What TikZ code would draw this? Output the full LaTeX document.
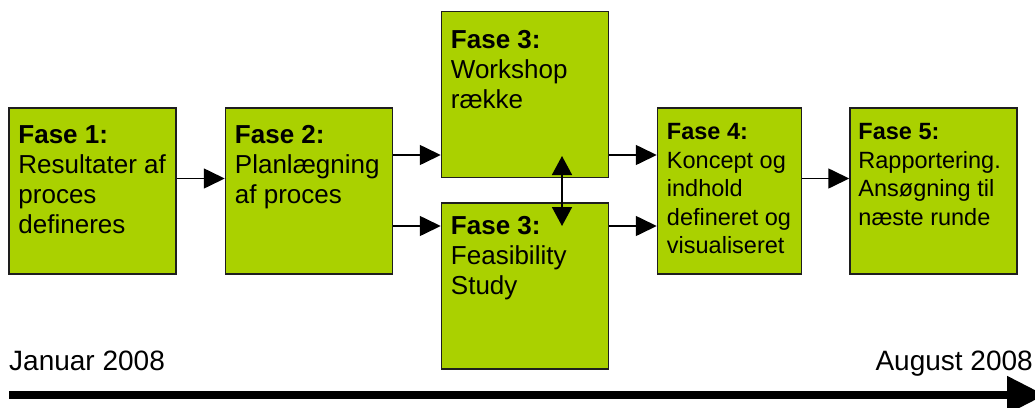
\documentclass[tikz,border=0pt]{standalone}
\usepackage{fontspec}
\setmainfont{Liberation Sans}
\usepackage{tikz}
\usetikzlibrary{arrows.meta,positioning}
\definecolor{phasegreen}{RGB}{170, 209, 0}
\definecolor{edgegray}{RGB}{30, 30, 30}
\tikzstyle{phase} = [rectangle, draw=edgegray, line width=1.5pt, fill=phasegreen, minimum width=167pt, minimum height=166pt, inner sep=0pt]
\tikzstyle{phasetext} = [inner sep=0pt, align=left, text=black, font=\fontsize{26}{30}\selectfont]
\tikzstyle{smalltext} = [inner sep=0pt, align=left, text=black, font=\fontsize{23.5}{28.5}\selectfont]
\tikzstyle{datetext} = [inner sep=0pt, text=black, font=\fontsize{28}{32}\selectfont]
\tikzstyle{tedge}  = [draw, line width=1.6pt, -{Triangle[length=21pt, width=20pt]}]
\tikzstyle{twoway} = [draw, line width=1.6pt, {Triangle[length=19pt, width=20pt]}-{Triangle[length=19pt, width=20pt]}]
\tikzstyle{timeline} = [draw, line width=8pt, -{Triangle[length=38pt, width=36pt]}]

\begin{document}
\begin{tikzpicture}[x=1pt, y=-1pt]
\useasboundingbox (0,0) rectangle (1035,407);

% phase boxes =============================
\node[phase] (f1) at (92.5,191) {};
\node[phase, right=48pt of f1] (f2) {};
\node[phase] (w3) at (525,94.5) {};
\node[phase, below=24pt of w3] (fs3) {};
\node[phase, minimum width=144pt] (f4) at (729.5,191) {};
\node[phase, right=47pt of f4] (f5) {};

\node[phasetext, below right=18pt and 10pt of f1.north west] (t1) {\textbf{Fase 1:}\\Resultater af\\proces\\defineres};
\node[phasetext, below right=18pt and 10pt of f2.north west] (t2) {\textbf{Fase 2:}\\Planlægning\\af proces};
\node[phasetext, below right=19pt and 10pt of w3.north west] (tw3) {\textbf{Fase 3:}\\Workshop\\række};
\node[phasetext, below right=14pt and 10pt of fs3.north west] (tfs3) {\textbf{Fase 3:}\\Feasibility\\Study};
\node[smalltext, below right=16pt and 10pt of f4.north west] (t4) {\textbf{Fase 4:}\\Koncept og\\indhold\\defineret og\\visualiseret};
\node[smalltext, below right=16pt and 9pt of f5.north west] (t5) {\textbf{Fase 5:}\\Rapportering.\\Ansøgning til\\næste runde};

% levels of the edges
\coordinate (hi) at (0,155);
\coordinate (mid) at (0,178.5);
\coordinate (lo) at (0,226);
\coordinate (up) at (562,156);
\coordinate (dn) at (562,226);

% edges
\path[tedge] (f1.east |- mid) -- (f2.west |- mid);
\path[tedge] (f2.east |- hi) -- (w3.west |- hi);
\path[tedge] (f2.east |- lo) -- (fs3.west |- lo);
\path[tedge] (w3.east |- hi) -- (f4.west |- hi);
\path[tedge] (fs3.east |- lo) -- (f4.west |- lo);
\path[tedge] (f4.east |- mid) -- (f5.west |- mid);
\path[twoway] (up) -- (dn);

% time line
\coordinate (tstart) at (9,395);
\coordinate (tend) at (1045,395);
\path[timeline] (tstart) -- (tend);
\node[datetext, anchor=base west] (jan) at (9,370) {Januar 2008};
\node[datetext, anchor=base east] (aug) at (1033,370) {August 2008};

\end{tikzpicture}
\end{document}
